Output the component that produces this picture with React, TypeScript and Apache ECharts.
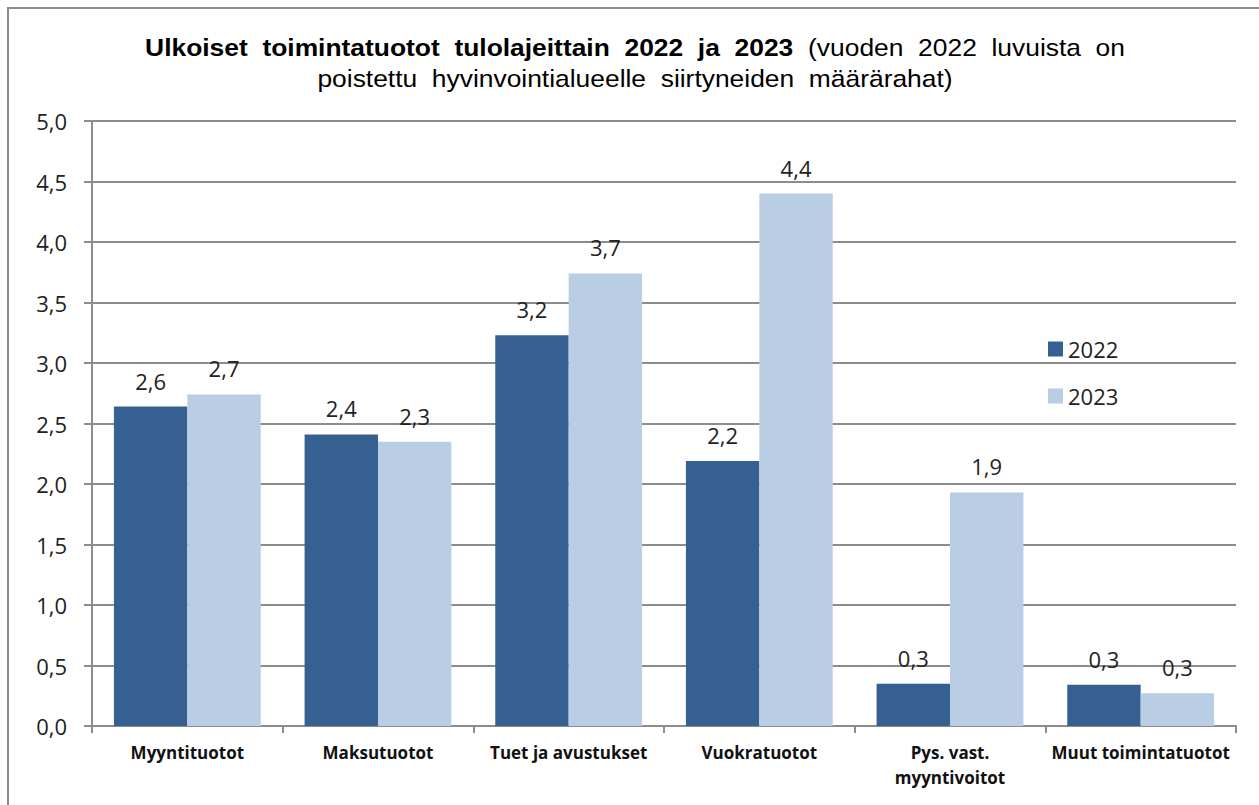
import React, { useEffect, useRef } from "react";
import * as echarts from "echarts";

const categories = [
  "Myyntituotot",
  "Maksutuotot",
  "Tuet ja avustukset",
  "Vuokratuotot",
  "Pys. vast.\nmyyntivoitot",
  "Muut toimintatuotot",
];
const values2022 = [2.64, 2.41, 3.23, 2.19, 0.35, 0.34];
const values2023 = [2.74, 2.35, 3.74, 4.4, 1.93, 0.27];
const labels2022 = ["2,6", "2,4", "3,2", "2,2", "0,3", "0,3"];
const labels2023 = ["2,7", "2,3", "3,7", "4,4", "1,9", "0,3"];
const seriesNames = ["2022", "2023"];
const yTicks = { min: 0, max: 5, interval: 0.5 };

const FONT = "'Liberation Sans', Arial, sans-serif";
const LFONT = "'Open Sans', 'Noto Sans', sans-serif";

export default function App() {
  const ref = useRef<HTMLDivElement>(null);
  useEffect(() => {
    if (!ref.current) return;
    const chart = echarts.init(ref.current, undefined, { renderer: "svg" });
    chart.setOption({
      animation: false,
      backgroundColor: "#ffffff",
      graphic: [
        {
          type: "rect",
          shape: { x: 8, y: 8, width: 1300, height: 900 },
          style: { fill: "none", stroke: "#8c8c8c", lineWidth: 2 },
          silent: true,
        },
        {
          type: "text",
          x: 635,
          y: 31.5,
          scaleX: 1.1,
          silent: true,
          style: {
            text:
              "{b|Ulkoiset  toimintatuotot  tulolajeittain  2022  ja  2023}{n|  (vuoden  2022  luvuista  on}\n{n|poistettu  hyvinvointialueelle  siirtyneiden  määrärahat)}",
            align: "center",
            verticalAlign: "top",
            fill: "#000",
            rich: {
              b: { fontFamily: FONT, fontSize: 24, fontWeight: "bold", fill: "#000", lineHeight: 31, align: "center" },
              n: { fontFamily: FONT, fontSize: 24, fontWeight: "normal", fill: "#000", lineHeight: 31, align: "center" },
            },
          },
        },
      ],
      legend: {
        orient: "vertical",
        left: 1043,
        top: 332,
        itemWidth: 15,
        itemHeight: 15,
        itemGap: 23,
        icon: "rect",
        textStyle: { fontFamily: LFONT, fontSize: 22, color: "#222", lineHeight: 24 },
        data: seriesNames,
      },
      grid: {
        left: 92,
        right: 23,
        top: 121,
        bottom: 79,
        outerBoundsMode: "none",
        containLabel: false,
      },
      xAxis: {
        type: "category",
        data: categories,
        axisLine: { show: true, lineStyle: { color: "#8c8c8c", width: 2 } },
        axisTick: { show: true, length: 7, alignWithLabel: false, lineStyle: { color: "#8c8c8c", width: 2 } },
        axisLabel: {
          interval: 0,
          margin: 14,
          fontFamily: LFONT,
          fontSize: 17,
          fontWeight: "bold",
          color: "#111",
          lineHeight: 25,
        },
      },
      yAxis: {
        type: "value",
        min: yTicks.min,
        max: yTicks.max,
        interval: yTicks.interval,
        axisLine: { show: true, lineStyle: { color: "#8c8c8c", width: 2 } },
        axisTick: { show: true, length: 8, inside: false, lineStyle: { color: "#8c8c8c", width: 2 } },
        splitLine: { show: true, lineStyle: { color: "#8c8c8c", width: 2 } },
        axisLabel: {
          margin: 25,
          fontFamily: LFONT,
          fontSize: 22,
          color: "#222",
          formatter: (v: number) => v.toFixed(1).replace(".", ","),
        },
      },
      series: [
        {
          name: seriesNames[0],
          type: "bar",
          data: values2022,
          barGap: "0%",
          barCategoryGap: "23%",
          itemStyle: { color: "#366092" },
          label: {
            show: true,
            position: "top",
            distance: 15,
            fontFamily: LFONT,
            fontSize: 22,
            color: "#222",
            formatter: (p: any) => labels2022[p.dataIndex],
          },
        },
        {
          name: seriesNames[1],
          type: "bar",
          data: values2023,
          barGap: "0%",
          barCategoryGap: "23%",
          itemStyle: { color: "#B9CDE5" },
          label: {
            show: true,
            position: "top",
            distance: 15,
            fontFamily: LFONT,
            fontSize: 22,
            color: "#222",
            formatter: (p: any) => labels2023[p.dataIndex],
          },
        },
      ],
    });
    return () => chart.dispose();
  }, []);
  return (
    <div
      ref={ref}
      style={{ position: "fixed", left: 0, top: 0, width: 1259, height: 805 }}
    />
  );
}
